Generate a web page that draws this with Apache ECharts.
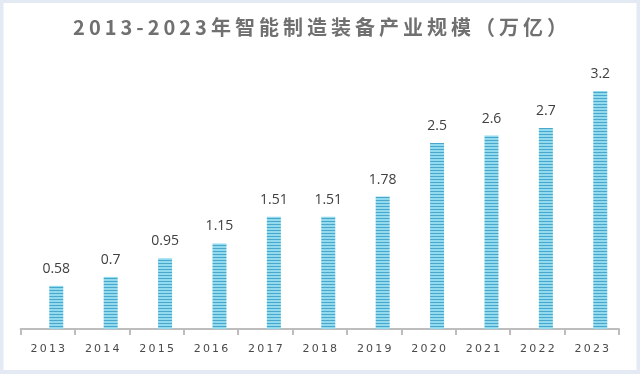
<!DOCTYPE html>
<html><head><meta charset="utf-8">
<script src="https://cdn.jsdelivr.net/npm/echarts@6/dist/echarts.min.js"></script>
<style>html,body{margin:0;padding:0;background:#fff}#c{width:640px;height:376px}</style>
</head><body><div id="c"></div>
<script>
const titleText = '2013-2023年智能制造装备产业规模（万亿）';
const years = ['2013','2014','2015','2016','2017','2018','2019','2020','2021','2022','2023'];
const values = [0.58, 0.7, 0.95, 1.15, 1.51, 1.51, 1.78, 2.5, 2.6, 2.7, 3.2];

function spaced(s, sp){ return s.split('').join(sp); }

const pc = document.createElement('canvas');
pc.width = 4; pc.height = 3;
const g = pc.getContext('2d');
g.fillStyle = '#92daee'; g.fillRect(0,0,4,3);
g.fillStyle = '#4aa7cc'; g.fillRect(0,2,4,1);

const chart = echarts.init(document.getElementById('c'), null, {renderer:'canvas'});
chart.setOption({
  backgroundColor: '#ffffff',
  animation: false,
  graphic: [{
    type: 'rect', silent: true, z: -1,
    shape: {x: 1.5, y: 1, width: 637, height: 371},
    style: {fill: 'none', stroke: '#e4eaf4', lineWidth: 4}
  }],
  title: {
    text: spaced(titleText, '\u2009'),
    left: 'center', top: 12,
    textStyle: {fontFamily: '"Noto Sans CJK SC"', fontSize: 20, fontWeight: 'bold', color: '#707070'}
  },
  grid: {left: 20.6, right: 21, top: 68.6, bottom: 47, containLabel: false},
  xAxis: {
    type: 'category', data: years,
    axisLine: {lineStyle: {color: '#bdbdbd', width: 2}},
    axisTick: {show: true, length: 6, interval: 0, lineStyle: {color: '#bdbdbd', width: 2}},
    axisLabel: {interval: 0, margin: 15, color: '#4a4a4a', fontSize: 11, fontFamily: '"DejaVu Sans"',
      formatter: v => spaced(v, '\u2009')}
  },
  yAxis: {type: 'value', min: 0, max: 3.5, show: false, splitLine: {show: false}},
  series: [
    {type: 'bar', data: [], barWidth: 14, barGap: '21%'},
    {type: 'bar', data: values, barWidth: 14, barGap: '21%',
      itemStyle: {color: {image: pc, repeat: 'repeat'}},
      label: {show: true, position: 'top', distance: 10, color: '#404040', fontSize: 14,
        fontFamily: '"Open Sans"'}}
  ]
});
</script></body></html>
